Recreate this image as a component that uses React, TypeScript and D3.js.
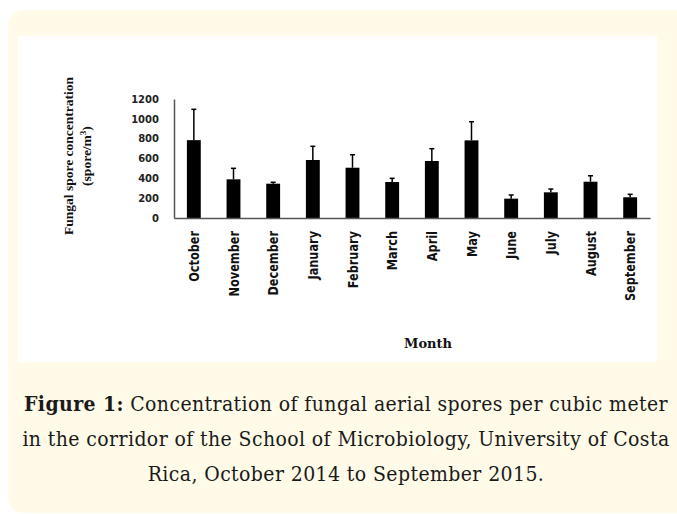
import { useEffect, useRef } from 'react';
import * as d3 from 'd3';

const months = [
  'October', 'November', 'December', 'January', 'February', 'March',
  'April', 'May', 'June', 'July', 'August', 'September',
];
const meanSpores = [785, 390, 346, 585, 507, 363, 575, 783, 195, 259, 366, 209];
const sdSpores = [311, 111, 14, 138, 131, 37, 124, 188, 37, 33, 60, 30];
const yTicks = [0, 200, 400, 600, 800, 1000, 1200];

const captionLines = [
  ['Figure 1:', ' Concentration of fungal aerial spores per cubic meter'],
  ['', 'in the corridor of the School of Microbiology, University of Costa'],
  ['', 'Rica, October 2014 to September 2015.'],
];

export default function App() {
  const svgRef = useRef<SVGSVGElement>(null);

  useEffect(() => {
    if (!svgRef.current) return;
    const svg = d3.select(svgRef.current);
    svg.selectAll('*').remove();

    // cream card + white plot panel
    svg.append('rect').attr('x', 8).attr('y', 10).attr('width', 690).attr('height', 503)
      .attr('rx', 16).attr('fill', '#fffbe8');
    svg.append('rect').attr('x', 18).attr('y', 36).attr('width', 639).attr('height', 326)
      .attr('fill', '#ffffff');

    const x = d3.scaleBand().domain(months).range([174, 650])
      .paddingInner(0.65).paddingOuter(0.325);
    const y = d3.scaleLinear().domain([0, 1200]).range([218, 99]);

    // y axis
    svg.append('g')
      .attr('transform', 'translate(174,0)')
      .call(d3.axisLeft(y).tickValues(yTicks).tickFormat((d) => String(d))
        .tickSize(0).tickPadding(15).tickSizeOuter(0))
      .call((g) => g.select('.domain').attr('stroke', '#555').attr('stroke-width', 1.5))
      .selectAll('text')
      .attr('fill', '#222')
      .style('font-family', '"DejaVu Sans", Verdana, sans-serif')
      .style('font-weight', 'bold')
      .style('font-size', '10px');

    // bars
    svg.selectAll('.bar')
      .data(months)
      .enter()
      .append('rect')
      .attr('x', (d) => x(d) || 0)
      .attr('y', (_, i) => y(meanSpores[i]))
      .attr('width', x.bandwidth())
      .attr('height', (_, i) => y(0) - y(meanSpores[i]))
      .attr('fill', '#000');

    // error bars (upper only)
    const err = svg.append('g').attr('stroke', '#000').attr('stroke-width', 1.5);
    months.forEach((m, i) => {
      const cx = (x(m) || 0) + x.bandwidth() / 2;
      const top = y(meanSpores[i] + sdSpores[i]);
      err.append('line').attr('x1', cx).attr('x2', cx).attr('y1', y(meanSpores[i])).attr('y2', top);
      err.append('line').attr('x1', cx - 2.5).attr('x2', cx + 2.5).attr('y1', top).attr('y2', top);
    });

    // x axis
    svg.append('g')
      .attr('transform', 'translate(0,218)')
      .call(d3.axisBottom(x).tickSize(0).tickSizeOuter(0).tickFormat(() => ''))
      .call((g) => g.select('.domain').attr('stroke', '#555').attr('stroke-width', 1.5));

    // month labels, squeezed to look condensed
    svg.append('g')
      .selectAll('text')
      .data(months)
      .enter()
      .append('text')
      .attr('transform', (d) => `translate(${(x(d) || 0) + x.bandwidth() / 2},231) rotate(-90) scale(0.78,1)`)
      .attr('dy', '0.35em')
      .attr('text-anchor', 'end')
      .attr('fill', '#111')
      .style('font-family', '"DejaVu Sans", sans-serif')
      .style('font-weight', 'bold')
      .style('font-size', '14.5px')
      .text((d) => d);

    // y title
    const yt = svg.append('text')
      .attr('transform', 'translate(73,156) rotate(-90)')
      .attr('text-anchor', 'middle')
      .attr('fill', '#111')
      .style('font-family', '"Liberation Serif", serif')
      .style('font-weight', 'bold')
      .style('font-size', '13.5px');
    yt.append('tspan').attr('x', 0).attr('y', 0).text('Fungal spore concentration');
    const l2 = yt.append('tspan').attr('x', 0).attr('y', 18).text('(spore/m');
    l2.append('tspan').attr('dy', -5).style('font-size', '9px').text('3');
    l2.append('tspan').attr('dy', 5).text(')');

    // x title
    svg.append('text')
      .attr('x', 428).attr('y', 348)
      .attr('text-anchor', 'middle')
      .attr('fill', '#111')
      .style('font-family', '"DejaVu Serif", serif')
      .style('font-weight', 'bold')
      .style('font-size', '13px')
      .text('Month');

    // caption
    captionLines.forEach((ln, i) => {
      const t = svg.append('text')
        .attr('x', 346).attr('y', 411 + i * 35)
        .attr('text-anchor', 'middle')
        .attr('fill', '#1a1a1a')
        .style('font-family', '"DejaVu Serif Condensed", "Liberation Serif", serif')
        .style('font-stretch', 'condensed')
        .style('letter-spacing', '0.4px')
        .style('font-size', '21px');
      if (ln[0]) t.append('tspan').style('font-weight', 'bold').text(ln[0]);
      t.append('tspan').text(ln[1]);
    });
  }, []);

  return (
    <div style={{ position: 'absolute', left: 0, top: 0 }}>
      <svg ref={svgRef} width={677} height={514} style={{ display: 'block' }} />
    </div>
  );
}
